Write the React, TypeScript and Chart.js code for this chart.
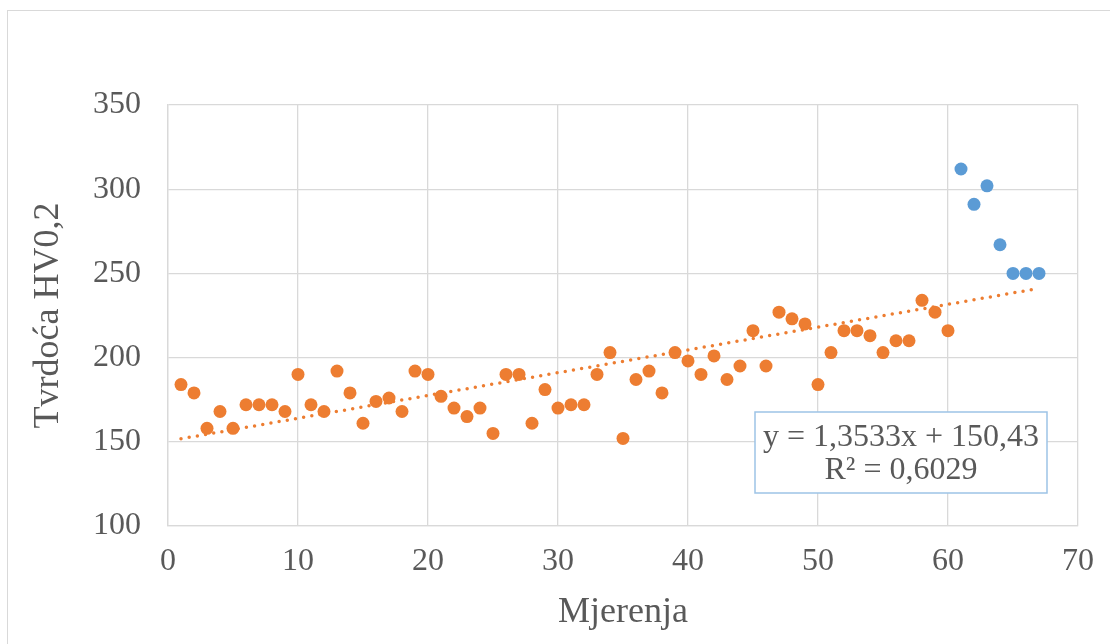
import React, { useEffect, useRef } from "react";
import { Chart, registerables } from "chart.js";

Chart.register(...registerables);

// Measured hardness, measurements 1..60 (orange series)
const HARDNESS_MAIN = [
  184, 179, 158, 168, 158, 172, 172, 172, 168, 190,
  172, 168, 192, 179, 161, 174, 176, 168, 192, 190,
  177, 170, 165, 170, 155, 190, 190, 161, 181, 170,
  172, 172, 190, 203, 152, 187, 192, 179, 203, 198,
  190, 201, 187, 195, 216, 195, 227, 223, 220, 184,
  203, 216, 216, 213, 203, 210, 210, 234, 227, 216,
];
const MAIN_START = 1;

// Measurements 61..67 (blue series)
const HARDNESS_OUTLIERS = [312, 291, 302, 267, 250, 250, 250];
const OUTLIER_START = 61;

// Linear trendline (as reported on the chart)
const TREND_SLOPE = 1.3533;
const TREND_INTERCEPT = 150.43;
const TREND_X_RANGE = [1, 67];
const TREND_LABEL = ["y = 1,3533x + 150,43", "R² = 0,6029"];

const X_MIN = 0;
const X_MAX = 70;
const X_STEP = 10;
const Y_MIN = 100;
const Y_MAX = 350;
const Y_STEP = 50;

const X_TITLE = "Mjerenja";
const Y_TITLE = "Tvrdoća HV0,2";

const ORANGE = "#ED7D31";
const BLUE = "#5B9BD5";
const TEXT = "#595959";
const GRID = "#d9d9d9";
const FONT = "'Liberation Serif', 'Times New Roman', serif";

const W = 1110;
const H = 644;

const trendLabelPlugin = {
  id: "trendLabel",
  afterDatasetsDraw(chart: any) {
    const { ctx } = chart;
    const bx = 755, by = 412, bw = 292, bh = 81;
    ctx.save();
    ctx.fillStyle = "#ffffff";
    ctx.fillRect(bx, by, bw, bh);
    ctx.strokeStyle = "#9DC3E6";
    ctx.lineWidth = 1.5;
    ctx.strokeRect(bx, by, bw, bh);
    ctx.fillStyle = TEXT;
    ctx.font = `32px ${FONT}`;
    ctx.textAlign = "center";
    ctx.textBaseline = "middle";
    ctx.fillText(TREND_LABEL[0], bx + bw / 2, by + 26);
    ctx.fillText(TREND_LABEL[1], bx + bw / 2, by + 59);
    ctx.restore();
  },
};

export default function App() {
  const canvasRef = useRef<HTMLCanvasElement | null>(null);

  useEffect(() => {
    const canvas = canvasRef.current;
    if (!canvas) return;

    const mainPoints = HARDNESS_MAIN.map((y, i) => ({ x: MAIN_START + i, y }));
    const outlierPoints = HARDNESS_OUTLIERS.map((y, i) => ({ x: OUTLIER_START + i, y }));
    const trendPoints = TREND_X_RANGE.map((x) => ({ x, y: TREND_SLOPE * x + TREND_INTERCEPT }));

    const chart = new Chart(canvas, {
      type: "scatter",
      data: {
        datasets: [
          {
            label: "Linear trend",
            data: trendPoints,
            showLine: true,
            borderColor: ORANGE,
            backgroundColor: ORANGE,
            borderWidth: 3.5,
            borderDash: [0, 8.3],
            borderCapStyle: "round",
            pointRadius: 0,
            pointHoverRadius: 0,
            order: 0,
          } as any,
          {
            label: "Mjerenja 61-67",
            data: outlierPoints,
            backgroundColor: BLUE,
            borderWidth: 0,
            pointRadius: 6.5,
            pointHoverRadius: 6.5,
            order: 1,
          },
          {
            label: "Mjerenja 1-60",
            data: mainPoints,
            backgroundColor: ORANGE,
            borderWidth: 0,
            pointRadius: 6.5,
            pointHoverRadius: 6.5,
            order: 2,
          },
        ],
      },
      options: {
        animation: false,
        responsive: false,
        events: [],
        layout: { padding: { left: 0, top: 105, right: 32, bottom: 0 } },
        plugins: {
          legend: { display: false },
          tooltip: { enabled: false },
          title: { display: false },
        },
        scales: {
          x: {
            type: "linear",
            min: X_MIN,
            max: X_MAX,
            afterFit: (scale: any) => {
              scale.height = 118;
            },
            ticks: {
              stepSize: X_STEP,
              color: TEXT,
              font: { family: FONT, size: 32 },
              padding: 16,
              maxRotation: 0,
            },
            grid: { color: GRID, lineWidth: 1.3, drawTicks: false },
            border: { display: true, color: GRID, width: 1.3 },
            title: {
              display: true,
              text: X_TITLE,
              color: TEXT,
              font: { family: FONT, size: 36 },
              padding: { top: 10, bottom: 10 },
            },
          },
          y: {
            type: "linear",
            min: Y_MIN,
            max: Y_MAX,
            afterFit: (scale: any) => {
              scale.width = 168;
            },
            ticks: {
              stepSize: Y_STEP,
              color: TEXT,
              font: { family: FONT, size: 32 },
              padding: 27,
            },
            grid: { color: GRID, lineWidth: 1.3, drawTicks: false },
            border: { display: true, color: GRID, width: 1.3 },
            title: {
              display: true,
              text: Y_TITLE,
              color: TEXT,
              font: { family: FONT, size: 36 },
              padding: { top: 27, bottom: 27 },
            },
          },
        },
      },
      plugins: [trendLabelPlugin],
    });

    return () => {
      chart.destroy();
    };
  }, []);

  return (
    <div
      style={{
        position: "fixed",
        left: 0,
        top: 0,
        width: W,
        height: H,
        overflow: "hidden",
        background: "#ffffff",
      }}
    >
      <div
        style={{
          position: "absolute",
          left: 7,
          top: 10,
          width: 1200,
          height: 700,
          border: `1.5px solid ${GRID}`,
        }}
      />
      <canvas
        ref={canvasRef}
        width={W}
        height={H}
        style={{ position: "absolute", left: 0, top: 0, width: W, height: H }}
      />
    </div>
  );
}
